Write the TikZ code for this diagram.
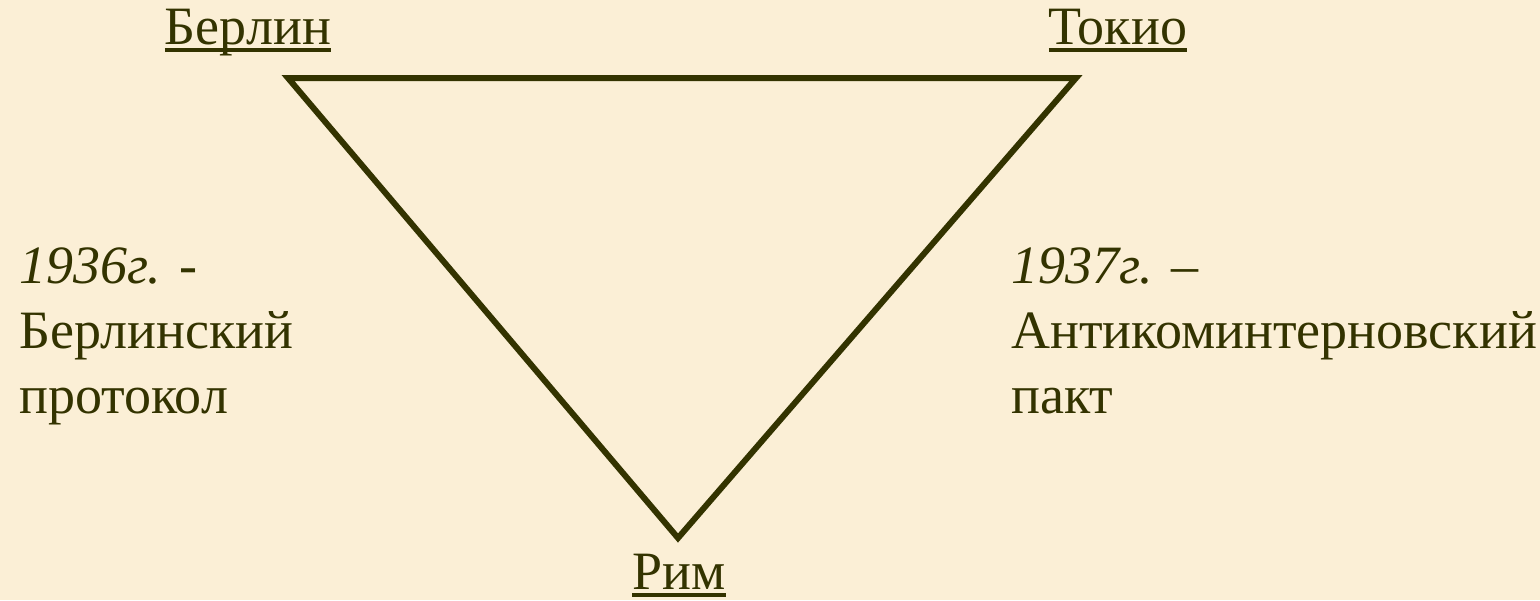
\documentclass[tikz,border=0pt]{standalone}
\usepackage{fontspec}
\setmainfont{Liberation Serif}
\usepackage{xcolor}
\usetikzlibrary{positioning}
\definecolor{axisdark}{HTML}{333300}
\definecolor{papyrus}{HTML}{FBEFD6}
\newcommand{\citymark}[1]{\setbox0\hbox{#1}\rlap{\rule[-4pt]{\wd0}{2pt}}\box0}
\tikzset{
  citylbl/.style={text=axisdark, font=\fontsize{27}{32.5}\selectfont, inner sep=0pt},
  pactlbl/.style={citylbl, align=left, anchor=base west},
  axisline/.style={draw=axisdark, line width=3pt, line join=miter},
}

\begin{document}
\begin{tikzpicture}[x=0.5pt, y=-0.5pt]
  \fill[papyrus] (0,0) rectangle (1540,600);
  \useasboundingbox (0,0) rectangle (1540,600);

  \coordinate (berlinpt) at (288,78);
  \coordinate (tokyopt) at (1076,78);
  \coordinate (romept) at (678,538);

  \node[citylbl, anchor=base] (berlin) at (248,44) {\citymark{Берлин}};
  \node[citylbl, anchor=base] (tokyo) at (1118,44) {\citymark{Токио}};
  \node[citylbl, anchor=base] (rome) at (679,589) {\citymark{Рим}};

  % base anchor sits on the last line
  \node[pactlbl] (protocol) at (19,413) {\textit{1936г. -}\\ Берлинский\\ протокол};
  \node[pactlbl] (pact) at (1011,413) {\textit{1937г. –}\\ Антикоминтерновский\\ пакт};

  \draw[axisline] (berlinpt) -- (tokyopt) -- (romept) -- cycle;
\end{tikzpicture}
\end{document}
